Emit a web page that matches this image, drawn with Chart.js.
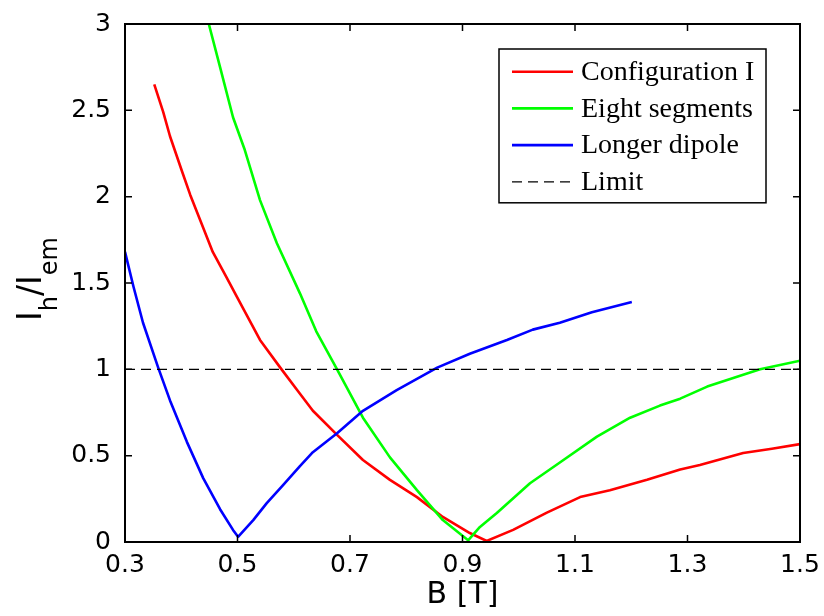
<!DOCTYPE html>
<html>
<head>
<meta charset="utf-8">
<script src="https://cdn.jsdelivr.net/npm/chart.js@4.4.1/dist/chart.umd.min.js"></script>
<style>
    html, body { margin: 0; padding: 0; background: #fff; }
    #wrap { width: 824px; height: 616px; }
</style>
</head>
<body>
<div id="wrap"><canvas id="chart" width="824" height="616"></canvas></div>
<script>
// ── Data ─────────────────────────────────────────────────────
const xTicks = [0.3, 0.5, 0.7, 0.9, 1.1, 1.3, 1.5];
const yTicks = [0, 0.5, 1, 1.5, 2, 2.5, 3];

const configB = [0.352, 0.368, 0.380, 0.401, 0.416, 0.439, 0.456, 0.481, 0.499, 0.540, 0.576, 0.606, 0.634, 0.677, 0.723, 0.771, 0.819, 0.865, 0.913, 0.943, 0.990, 1.050, 1.109, 1.162, 1.228, 1.287, 1.322, 1.399, 1.450, 1.500];
const configI = [2.65, 2.49, 2.35, 2.15, 2.01, 1.82, 1.68, 1.53, 1.42, 1.17, 1.01, 0.88, 0.76, 0.62, 0.475, 0.36, 0.26, 0.145, 0.052, 0.006, 0.07, 0.17, 0.26, 0.30, 0.36, 0.42, 0.446, 0.515, 0.54, 0.567];

const eightB = [0.449, 0.469, 0.492, 0.513, 0.540, 0.570, 0.611, 0.640, 0.677, 0.723, 0.771, 0.819, 0.865, 0.910, 0.931, 0.961, 1.020, 1.075, 1.139, 1.198, 1.251, 1.287, 1.335, 1.429, 1.500];
const eightI = [3.00, 2.75, 2.46, 2.27, 1.98, 1.73, 1.44, 1.22, 1.00, 0.72, 0.49, 0.30, 0.127, 0.01, 0.087, 0.168, 0.34, 0.465, 0.61, 0.72, 0.79, 0.83, 0.90, 1.00, 1.05];

const dipoleB = [0.300, 0.315, 0.332, 0.359, 0.380, 0.410, 0.439, 0.469, 0.492, 0.501, 0.528, 0.552, 0.581, 0.611, 0.634, 0.677, 0.723, 0.783, 0.855, 0.913, 0.979, 1.025, 1.073, 1.130, 1.201];
const dipoleI = [1.68, 1.48, 1.27, 1.01, 0.82, 0.58, 0.37, 0.19, 0.07, 0.03, 0.127, 0.225, 0.33, 0.44, 0.52, 0.63, 0.76, 0.88, 1.01, 1.09, 1.17, 1.23, 1.27, 1.33, 1.39];

const limitB = [0.3, 1.5];
const limitI = [1, 1];

const pts = (xs, ys) => xs.map((x, i) => ({ x, y: ys[i] }));

// ── Plugins: matlab box with inward ticks, legend, y title ───
const framePlugin = {
    id: 'frame',
    afterDraw(chart) {
        const { ctx, chartArea: a, scales } = chart;
        const L = 7;
        ctx.save();
        ctx.strokeStyle = '#000';
        ctx.lineWidth = 2;
        ctx.strokeRect(a.left, a.top, a.right - a.left, a.bottom - a.top);
        ctx.beginPath();
        xTicks.forEach(v => {
            const px = scales.x.getPixelForValue(v);
            ctx.moveTo(px, a.bottom); ctx.lineTo(px, a.bottom - L);
            ctx.moveTo(px, a.top);    ctx.lineTo(px, a.top + L);
        });
        yTicks.forEach(v => {
            const py = scales.y.getPixelForValue(v);
            ctx.moveTo(a.left, py);  ctx.lineTo(a.left + L, py);
            ctx.moveTo(a.right, py); ctx.lineTo(a.right - L, py);
        });
        ctx.lineWidth = 1.5;
        ctx.stroke();
        ctx.restore();
    }
};

const legendPlugin = {
    id: 'boxLegend',
    afterDraw(chart) {
        const { ctx, chartArea: a } = chart;
        const ds = chart.data.datasets;
        const w = 267, rowH = 36.7;
        const h = ds.length * rowH + 7;
        const x0 = a.right - 34 - w, y0 = a.top + 25;
        ctx.save();
        ctx.fillStyle = '#fff';
        ctx.fillRect(x0, y0, w, h);
        ctx.strokeStyle = '#000';
        ctx.lineWidth = 1.5;
        ctx.strokeRect(x0, y0, w, h);
        ctx.font = '28px "Liberation Serif", "Times New Roman", serif';
        ctx.textBaseline = 'middle';
        ctx.fillStyle = '#000';
        ds.forEach((d, i) => {
            const cy = y0 + 22.7 + i * rowH;
            ctx.beginPath();
            ctx.strokeStyle = d.borderColor;
            ctx.lineWidth = d.borderWidth;
            ctx.setLineDash(d.borderDash || []);
            ctx.moveTo(x0 + 13, cy);
            ctx.lineTo(x0 + 74, cy);
            ctx.stroke();
            ctx.setLineDash([]);
            ctx.fillText(d.label, x0 + 82, cy + 1);
        });
        ctx.restore();
    }
};

const yTitlePlugin = {
    id: 'yTitle',
    afterDraw(chart) {
        const { ctx, chartArea: a } = chart;
        const big = '33px "DejaVu Sans", sans-serif';
        const sub = '24px "DejaVu Sans", sans-serif';
        const parts = [['I', big, 0], ['h', sub, 16], ['/I', big, 0], ['em', sub, 16]];
        ctx.save();
        ctx.fillStyle = '#000';
        let total = 0;
        parts.forEach(p => { ctx.font = p[1]; total += ctx.measureText(p[0]).width; });
        ctx.translate(41, (a.top + a.bottom) / 2 - 4);
        ctx.rotate(-Math.PI / 2);
        ctx.textBaseline = 'alphabetic';
        let x = -total / 2;
        parts.forEach(p => {
            ctx.font = p[1];
            ctx.fillText(p[0], x, p[2]);
            x += ctx.measureText(p[0]).width;
        });
        ctx.restore();
    }
};

// ── Chart ────────────────────────────────────────────────────
const tickFont = { family: 'DejaVu Sans', size: 25 };

new Chart(document.getElementById('chart').getContext('2d'), {
    type: 'line',
    data: {
        datasets: [
            { label: 'Configuration I', data: pts(configB, configI), borderColor: '#ff0000', borderWidth: 2.6, order: 3 },
            { label: 'Eight segments',  data: pts(eightB, eightI),   borderColor: '#00ff00', borderWidth: 2.6, order: 2 },
            { label: 'Longer dipole',   data: pts(dipoleB, dipoleI), borderColor: '#0000ff', borderWidth: 2.6, order: 1 },
            { label: 'Limit',           data: pts(limitB, limitI),   borderColor: '#000000', borderWidth: 1.3, borderDash: [10, 6], order: 0 }
        ]
    },
    options: {
        responsive: false,
        animation: false,
        layout: { padding: { top: 24, right: 24, left: 0, bottom: 0 } },
        elements: { point: { radius: 0, hoverRadius: 0 }, line: { tension: 0, fill: false, borderJoinStyle: 'round' } },
        plugins: { legend: { display: false }, tooltip: { enabled: false } },
        scales: {
            x: {
                type: 'linear', min: 0.3, max: 1.5,
                afterBuildTicks: s => { s.ticks = xTicks.map(v => ({ value: v })); },
                afterFit: s => { s.height = 74; },
                grid: { display: false },
                border: { display: false },
                ticks: { font: tickFont, color: '#000', padding: 0, maxRotation: 0, autoSkip: false, callback: v => String(v) },
                title: { display: true, text: 'B [T]', color: '#000', font: { family: 'DejaVu Sans', size: 30 }, padding: { top: 0, bottom: 3 } }
            },
            y: {
                type: 'linear', min: 0, max: 3,
                afterBuildTicks: s => { s.ticks = yTicks.map(v => ({ value: v })); },
                afterFit: s => { s.width = 125; },
                grid: { display: false },
                border: { display: false },
                ticks: { font: tickFont, color: '#000', padding: 6, autoSkip: false, callback: v => String(v) }
            }
        }
    },
    plugins: [framePlugin, legendPlugin, yTitlePlugin]
});
</script>
</body>
</html>
